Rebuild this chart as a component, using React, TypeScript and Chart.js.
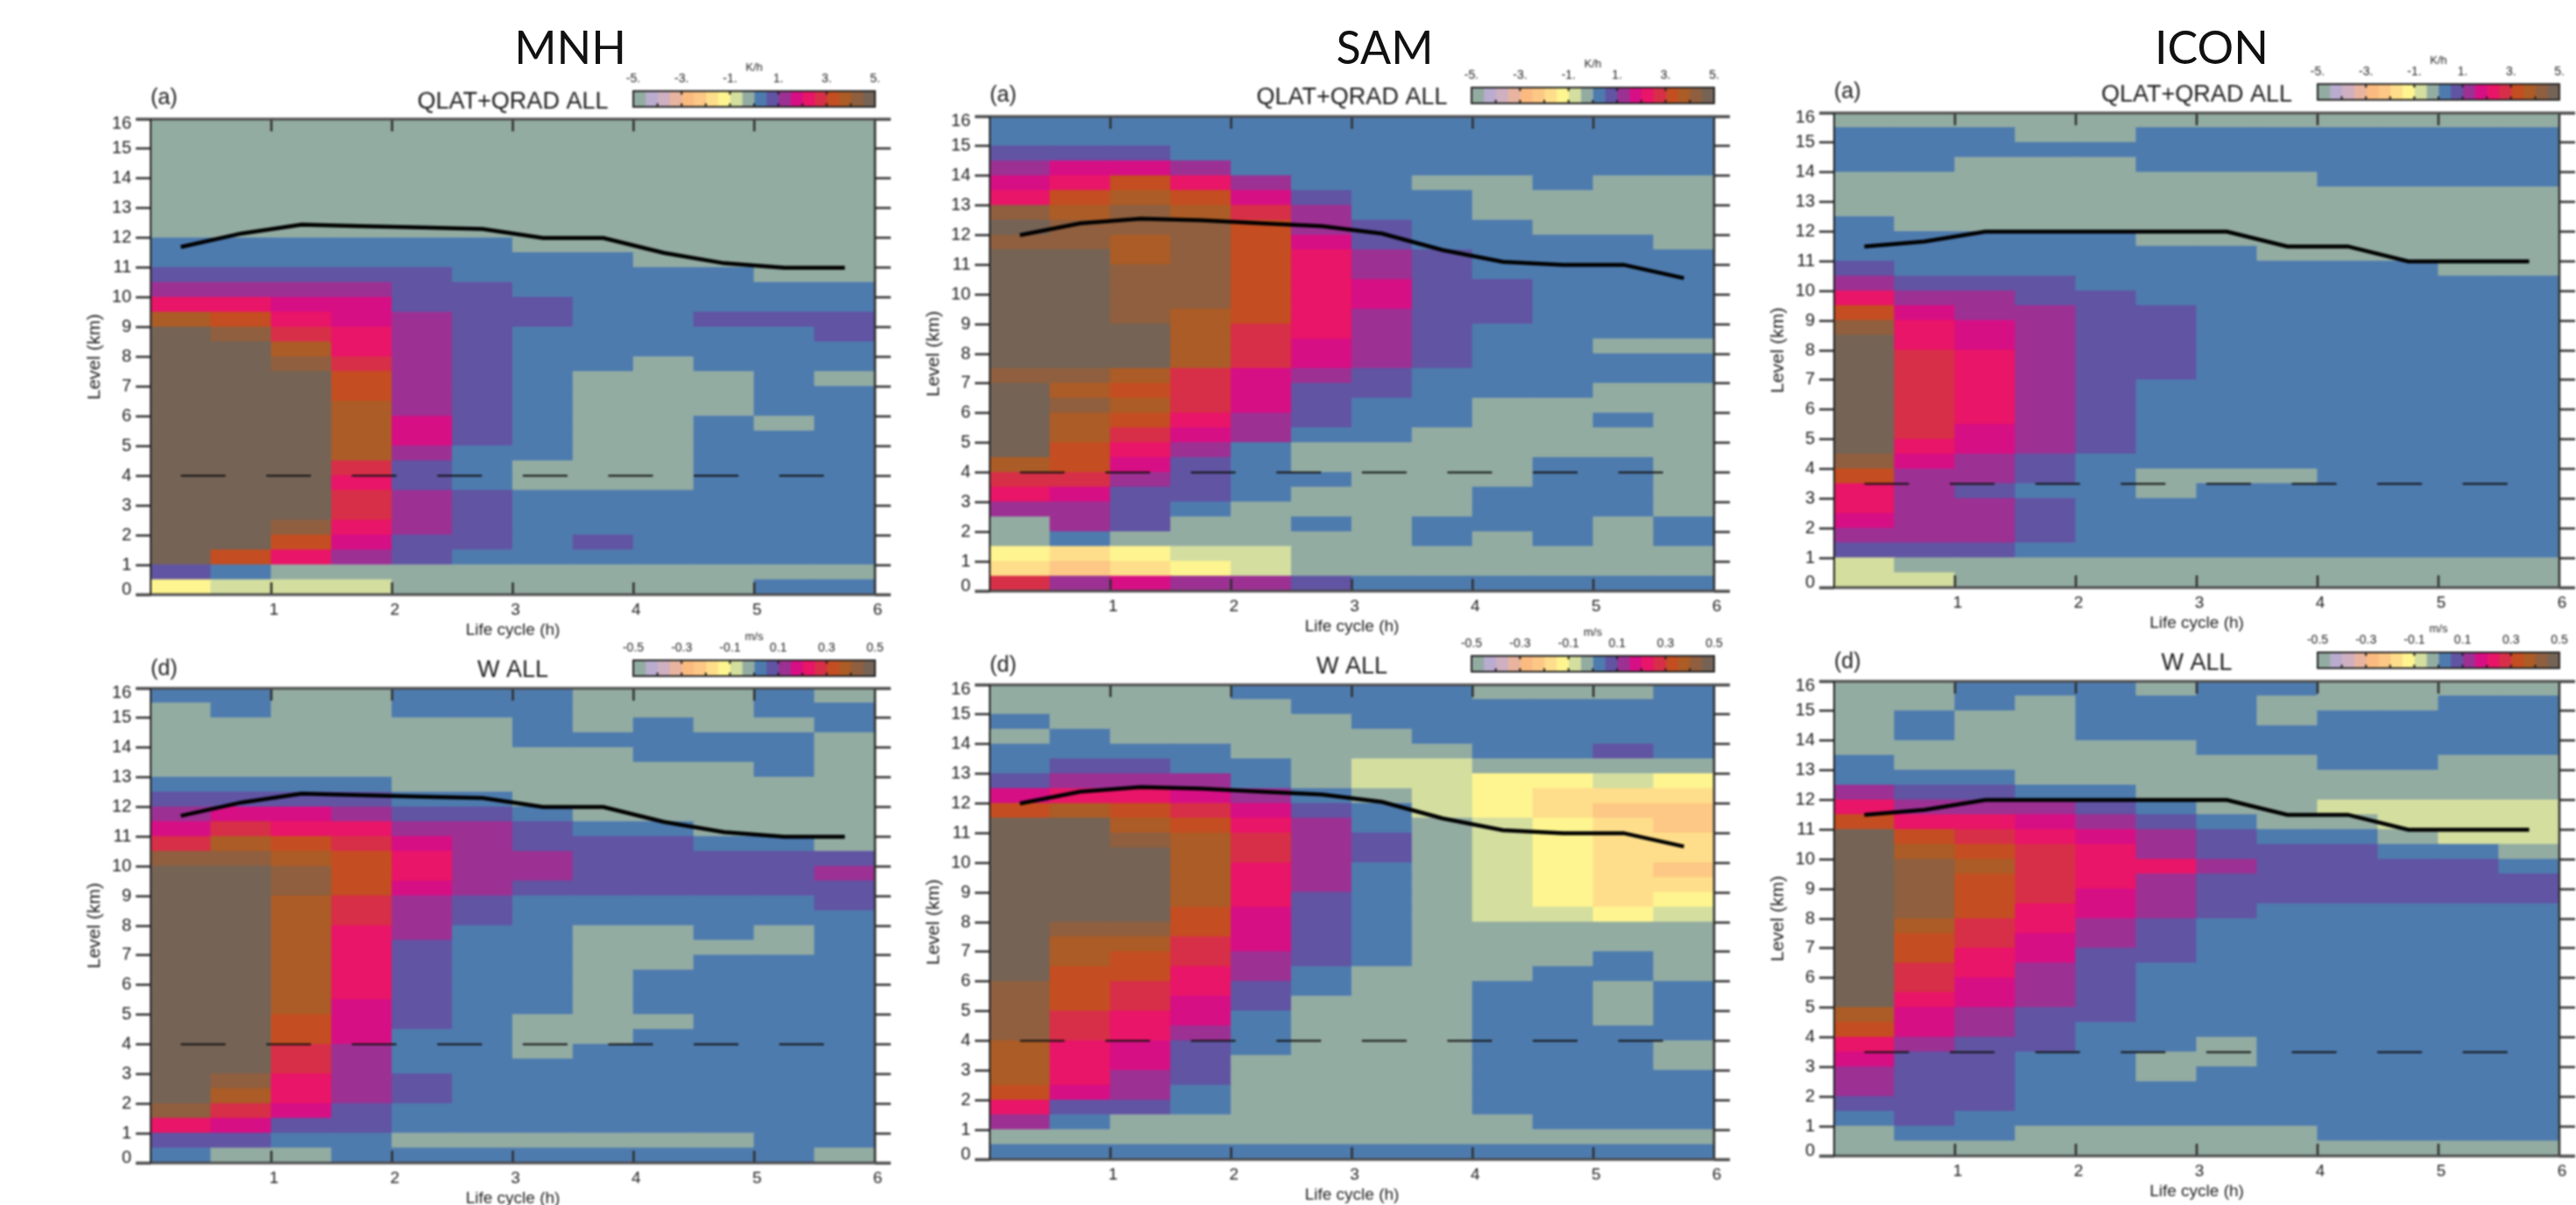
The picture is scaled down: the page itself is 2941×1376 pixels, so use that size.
import React, { useEffect, useRef } from "react";
import Chart from "chart.js/auto";

// Colour classes of the 20-step colour bar, from -5 (index 0) to +5 (index 19)
const LEVEL_COLORS = [
  "#93ACA2", "#B9ACCE", "#CFB0C0", "#E8B49F", "#FBBB80", "#FDC785", "#FEDE8A", "#FEF590", "#D3DE9F", "#93ACA2",
  "#4E7BAE", "#6154A3", "#9C3193", "#D70F84", "#E91568", "#D72F48", "#C44E21", "#AC5C26", "#8F5F3F", "#756356",
];
const N = 5, L = 6, Y = 7, E = 8, G = 9, B = 10, P = 11, U = 12, M = 13, K = 14, R = 15, O = 16, A = 17, W = 18, D = 19;

// Life-cycle bins (h), left edge of each 0.5 h column centre
const LIFE_CYCLE = [0.25, 0.75, 1.25, 1.75, 2.25, 2.75, 3.25, 3.75, 4.25, 4.75, 5.25, 5.75];

// Each column of a panel, top to bottom: colour class, then the level (km) down to which it holds
const MNH_QLAT = [
  [G,12, B,11, P,10.5, U,10, K,9.5, A,9, D,1, P,0.5, Y,0],
  [G,12, B,11, P,10.5, U,10, K,9.5, O,9, W,8.5, D,1.5, O,1, B,0.5, E,0],
  [G,12, B,11, P,10.5, U,10, M,9.5, K,9, R,8.5, A,8, W,7.5, D,2.5, W,2, O,1.5, K,1, G,0.5, E,0],
  [G,12, B,11, P,10.5, U,10, M,9, K,8, R,7.5, O,6.5, A,4.5, R,4, K,3.5, R,2.5, K,2, M,1.5, U,1, G,0.5, E,0],
  [G,12, B,11, P,9.5, U,6, M,5, U,4.5, P,3.5, U,2, P,1, G,0],
  [G,12, B,10.5, P,5, B,3.5, P,1.5, B,1, G,0],
  [G,11.5, B,10, P,9, B,4.5, G,3.5, B,1, G,0],
  [G,11.5, B,7.5, G,3.5, B,2, P,1.5, B,1, G,0],
  [G,11, B,8, G,3.5, B,1, G,0],
  [G,11, B,9.5, P,9, B,7.5, G,6, B,1, G,0],
  [G,10.5, B,9.5, P,9, B,6, G,5.5, B,1, G,0.5, B,0],
  [G,10.5, B,9.5, P,8.5, B,7.5, G,7, B,1, G,0.5, B,0],
];
const SAM_QLAT = [
  [B,15, P,14.5, U,14, M,13.5, K,13, W,12.5, D,12, W,11.5, D,7.5, W,7, D,4.5, A,4, R,3.5, K,3, U,2.5, G,1.5, Y,1, L,0.5, R,0],
  [B,15, P,14.5, M,14, K,13.5, O,13, A,12.5, W,11.5, D,7.5, W,7, A,6.5, W,6, A,5, O,4, R,3.5, M,3, U,2, B,1.5, L,1, N,0.5, U,0],
  [B,15, P,14.5, M,14, O,13.5, A,13, W,12, A,11, W,9, D,7.5, A,7, O,6.5, A,6, O,5.5, R,5, K,4.5, M,4, U,3.5, P,2, G,1.5, Y,1, L,0.5, M,0],
  [B,14.5, U,14, K,13.5, O,13, A,12.5, W,9.5, A,7.5, R,6, K,5.5, M,5, U,4.5, P,3, B,2.5, G,1.5, E,1, Y,0.5, U,0],
  [B,14, U,13.5, M,13, R,12.5, O,9, R,7.5, M,6, U,5, B,3, G,1.5, E,0.5, U,0],
  [B,13.5, P,13, U,12, M,11.5, K,8.5, M,7.5, U,7, P,5.5, B,5, G,4, B,3.5, G,2.5, B,2, G,0.5, P,0],
  [B,12.5, P,11.5, U,10.5, M,9.5, U,7.5, P,6.5, B,5, G,0.5, B,0],
  [B,14, G,13.5, B,11.5, P,7.5, B,5.5, G,2.5, B,1.5, G,0.5, B,0],
  [B,14, G,12.5, B,10.5, P,9, B,6.5, G,3.5, B,2, G,0.5, B,0],
  [B,13.5, G,12, B,6.5, G,4.5, B,1.5, G,0.5, B,0],
  [B,14, G,12, B,8.5, G,8, B,7, G,6, B,5.5, G,4.5, B,2.5, G,0.5, B,0],
  [B,14, G,11.5, B,8.5, G,8, B,7, G,2.5, B,1.5, G,0.5, B,0],
];
const ICON_QLAT = [
  [G,15.5, B,14, G,12.5, B,11, P,10.5, U,10, K,9.5, O,9, W,8.5, D,4.5, W,4, O,3.5, K,2.5, M,2, U,1.5, P,1, E,0],
  [G,15.5, B,14, G,12, B,10.5, P,10, U,9.5, M,9, K,8, R,5, K,4.5, M,4, U,1.5, P,1, G,0.5, E,0],
  [G,15.5, B,14.5, G,12, B,10.5, P,10, U,9, M,8, K,5.5, M,4.5, U,3.5, P,3, U,1.5, P,1, G,0],
  [G,15, B,14.5, G,12, B,10.5, P,9.5, U,4.5, P,3.5, B,3, P,1.5, B,1, G,0],
  [G,15, B,14.5, G,12, B,10, P,4.5, B,1, G,0],
  [G,15.5, B,14, G,11.5, B,9.5, P,7, B,4, G,3, B,1, G,0],
  [G,15.5, B,14, G,11.5, B,4, G,3.5, B,1, G,0],
  [G,15.5, B,14, G,11, B,4, G,3.5, B,1, G,0],
  [G,15.5, B,13.5, G,11, B,1, G,0],
  [G,15.5, B,13.5, G,11, B,1, G,0],
  [G,15.5, B,13.5, G,10.5, B,1, G,0],
  [G,15.5, B,13.5, G,10.5, B,1, G,0],
];
const MNH_W = [
  [B,15.5, G,13, B,12.5, P,12, U,11.5, M,11, R,10.5, W,10, D,2, W,1.5, K,1, P,0.5, B,0],
  [B,15, G,13, B,12.5, P,12, M,11.5, R,11, A,10.5, W,10, D,3, W,2.5, A,2, R,1.5, M,1, P,0.5, G,0],
  [G,13, B,12.5, P,12, M,11.5, K,11, O,10.5, A,10, W,9, A,5, O,4, R,3, K,2, M,1.5, P,1, B,0.5, G,0],
  [G,13, B,12.5, P,12, U,11.5, K,11, R,10.5, O,9, R,8, K,5.5, M,4, U,2, P,1, B,0],
  [B,15, G,12.5, B,12, P,11.5, U,11, M,10.5, K,9.5, M,9, U,7.5, P,4.5, B,3, P,2, B,1, G,0.5, B,0],
  [B,15, G,12.5, B,12, P,11.5, U,9, P,8, B,1, G,0.5, B,0],
  [B,14, G,12, B,11.5, P,10.5, U,9.5, P,9, B,5, G,3.5, B,1, G,0.5, B,0],
  [G,14.5, B,14, G,11.5, B,11, P,9, B,8, G,4, B,1, G,0.5, B,0],
  [G,15, B,13.5, G,11.5, B,11, P,9, B,8, G,6.5, B,5, G,4.5, B,1, G,0.5, B,0],
  [G,14.5, B,13.5, G,11, B,10.5, P,9, B,7.5, G,7, B,1, G,0.5, B,0],
  [B,15, G,14.5, B,13, G,11, B,10.5, P,9, B,8, G,7, B,0],
  [G,15.5, B,14.5, G,10.5, P,10, U,9.5, P,8.5, B,0.5, G,0],
];
const SAM_W = [
  [G,15, B,14.5, G,14, B,13, P,12.5, M,12, O,11.5, D,6, W,4, A,2.5, O,2, K,1.5, U,1, G,0.5, B,0],
  [G,14.5, B,13.5, P,13, U,12.5, K,12, A,11.5, D,8, W,7.5, A,6.5, O,5, R,4, K,2.5, M,2, P,1.5, B,1, G,0.5, B,0],
  [G,14, B,13.5, P,13, U,12.5, K,12, O,11.5, A,11, W,10.5, D,8, W,7.5, A,7, O,6, R,5, K,4, M,3, U,2, P,1.5, G,0.5, B,0],
  [G,14, B,13, U,12.5, M,12, R,11.5, O,11, A,8.5, O,7.5, R,6.5, K,5.5, M,4.5, U,4, P,2.5, B,1.5, G,0.5, B,0],
  [B,15.5, G,13.5, B,12.5, U,12, M,11.5, K,11, R,10, K,8.5, M,7, U,6, P,5, B,3.5, G,0.5, B,0],
  [B,15, G,12.5, B,12, P,11.5, U,9, P,6.5, B,5.5, G,0.5, B,0],
  [B,14.5, G,13.5, E,12.5, G,12, B,11, P,10, B,6.5, G,0.5, B,0],
  [B,14, G,13.5, E,11.5, G,0.5, B,0],
  [G,15.5, B,13.5, G,13, Y,11.5, E,8, G,6, B,1.5, G,0.5, B,0],
  [G,15.5, B,13.5, G,13, Y,12.5, L,11.5, Y,8.5, E,8, G,6.5, B,1, G,0.5, B,0],
  [G,15.5, B,14, P,13.5, G,13, E,12.5, L,12, N,11.5, L,8.5, Y,8, G,7, B,6, G,4.5, B,1, G,0.5, B,0],
  [B,13.5, G,13, Y,12.5, L,12, N,11, L,10, N,9.5, L,9, Y,8.5, E,8, G,6, B,4, G,3, B,1, G,0.5, B,0],
];
const ICON_W = [
  [G,13.5, B,12.5, U,12, K,11.5, O,11, D,5, A,4.5, O,4, K,3.5, M,3, U,2, P,1.5, B,1, G,0],
  [G,15, B,14, G,13, B,12.5, P,12, U,11.5, K,11, O,10.5, A,10, W,8, A,7.5, O,6.5, R,5.5, K,5, M,4, U,3.5, P,1, B,0.5, G,0],
  [B,15, G,13, B,12.5, P,12, U,11.5, K,11, R,10.5, O,10, A,9.5, O,8, R,7, K,6, M,5, U,4, P,1.5, B,0.5, G,0],
  [B,15.5, G,12.5, B,12, U,11.5, M,11, K,10.5, R,8.5, K,7.5, M,6.5, U,5, P,3.5, B,1, G,0],
  [B,14, G,12.5, B,12, P,11.5, U,11, M,10.5, K,9, M,8, U,7, P,4.5, B,1, G,0],
  [G,15.5, B,14, G,12, B,11.5, P,11, U,10, K,9.5, U,8, P,6.5, B,3.5, G,2.5, B,1, G,0],
  [B,13.5, G,11.5, B,11, P,10, U,9.5, P,8, B,4, G,3, B,1, G,0],
  [B,15.5, G,14.5, B,13.5, G,11, B,10.5, P,8.5, B,1, G,0],
  [G,15, B,13, G,12, E,11.5, G,11, B,10.5, P,8.5, B,0.5, G,0],
  [G,15, B,13, G,12, E,11, G,10.5, B,10, P,8.5, B,0.5, G,0],
  [G,15.5, B,13.5, G,12, E,10.5, B,10, P,8.5, B,0.5, G,0],
  [G,15.5, B,13.5, G,12, E,10.5, G,10, B,9.5, P,8.5, B,0.5, G,0],
];

// Solid line: cloud-top level (km); dashed line: reference level (km)
const MNH_TOP = [11.7, 12.15, 12.45, 12.4, 12.35, 12.3, 12.0, 12.0, 11.5, 11.15, 11.0, 11.0];
const SAM_TOP = [12.0, 12.4, 12.55, 12.5, 12.4, 12.3, 12.05, 11.5, 11.1, 11.0, 11.0, 10.55];
const ICON_TOP = [11.5, 11.67, 12.0, 12.0, 12.0, 12.0, 12.0, 11.5, 11.5, 11.0, 11.0, 11.0];
const MNH_REF = [4, 4, 4, 4, 4, 4, 4, 4, 4, 4, 4, 4];
const SAM_REF = [4, 4, 4, 4, 4, 4, 4, 4, 4, 4, 4, 4];
const ICON_REF = [3.5, 3.5, 3.5, 3.5, 3.5, 3.5, 3.5, 3.5, 3.5, 3.5, 3.5, 3.5];

const ROW_BOTTOMS = Array.from({ length: 32 }, (_, i) => i * 0.5);
const TEXT = "#1c1c1c";
const FONT = "'Liberation Sans', Arial, sans-serif";
const AXIS = "#2e2e2e";
const PAD = { left: 80, right: 20, top: 60, bottom: 52 };
const BAR_PAD = { left: 26, right: 26, top: 34, bottom: 2 };

function expandColumn(runs: number[]) {
  const out: Record<number, number> = {};
  let top = 16;
  for (let i = 0; i < runs.length; i += 2) {
    const bottom = runs[i + 1];
    for (let y = top - 0.5; y >= bottom; y -= 0.5) out[y] = runs[i];
    top = bottom;
  }
  return out;
}

function panelConfig(p: any) {
  const cols = p.cols.map(expandColumn);
  const cellSets = ROW_BOTTOMS.map((y) => ({
    type: "bar",
    grouped: false,
    order: 2,
    barPercentage: 1,
    categoryPercentage: 1,
    inflateAmount: 0.6,
    borderWidth: 0,
    data: LIFE_CYCLE.map((x) => ({ x, y: [y, y + 0.5] })),
    backgroundColor: cols.map((c: any) => LEVEL_COLORS[c[y]]),
  }));
  const top = p.top;
  const frame = {
    id: "frame",
    afterDatasetsDraw(chart: any) {
      const { ctx, chartArea: a, scales } = chart;
      ctx.save();
      ctx.strokeStyle = AXIS;
      ctx.lineWidth = 2.5;
      ctx.beginPath();
      ctx.moveTo(a.right, a.top);
      ctx.lineTo(a.right, a.bottom);
      for (let t = 1; t <= 5; t++) {
        const x = scales.x.getPixelForValue(t);
        ctx.moveTo(x, a.top);
        ctx.lineTo(x, a.top + 14);
        ctx.moveTo(x, a.bottom);
        ctx.lineTo(x, a.bottom - 14);
      }
      ctx.stroke();
      ctx.lineWidth = 3;
      ctx.strokeStyle = "#4a4a4a";
      ctx.beginPath();
      ctx.moveTo(a.left - 17, a.top);
      ctx.lineTo(a.right + 18, a.top);
      ctx.moveTo(a.left - 17, a.bottom);
      ctx.lineTo(a.right + 18, a.bottom);
      ctx.stroke();
      ctx.lineWidth = 2;
      ctx.strokeStyle = "#222222";
      ctx.beginPath();
      ctx.moveTo(a.left, a.top);
      ctx.lineTo(a.left, a.bottom);
      ctx.stroke();
      ctx.fillStyle = TEXT;
      ctx.textBaseline = "middle";
      ctx.textAlign = "left";
      ctx.font = `25px ${FONT}`;
      ctx.fillText(p.tag, a.left, a.top - p.tagUp);
      ctx.textAlign = "center";
      ctx.font = `27px ${FONT}`;
      ctx.fillText(p.title, (a.left + a.right) / 2, a.top - p.titleUp);
      ctx.restore();
    },
  };
  return {
    type: "bar",
    data: {
      datasets: [
        ...cellSets,
        {
          type: "line",
          order: 0,
          data: LIFE_CYCLE.map((x, i) => ({ x, y: top[i] })),
          borderColor: "#000000",
          borderWidth: 4.5,
          pointRadius: 0,
          tension: 0,
          fill: false,
        },
        {
          type: "line",
          order: 1,
          data: LIFE_CYCLE.map((x, i) => ({ x, y: p.ref[i] })),
          borderColor: "#111111",
          borderWidth: 2,
          borderDash: [51, 46.6],
          pointRadius: 0,
          tension: 0,
          fill: false,
        },
      ],
    },
    options: {
      animation: false,
      responsive: false,
      devicePixelRatio: 1,
      events: [],
      layout: { autoPadding: false, padding: { top: PAD.top, left: 0, right: 0, bottom: 0 } },
      plugins: { legend: { display: false }, tooltip: { enabled: false } },
      scales: {
        x: {
          type: "linear",
          min: 0,
          max: 6,
          offset: false,
          grid: { display: false, drawTicks: false },
          border: { display: false },
          ticks: {
            stepSize: 1,
            padding: 6,
            labelOffset: 3,
            color: TEXT,
            maxRotation: 0,
            font: { family: FONT, size: 19 },
            callback: (v: number) => (v === 0 ? "" : String(v)),
          },
          title: { display: true, text: "Life cycle (h)", color: TEXT, padding: 0, font: { family: FONT, size: 19 } },
          afterFit(s: any) {
            s.height = PAD.bottom;
          },
        },
        y: {
          type: "linear",
          min: 0,
          max: 16,
          grid: { drawOnChartArea: false, drawTicks: true, tickLength: 17, tickWidth: 2.5, tickColor: AXIS },
          border: { display: false },
          ticks: {
            stepSize: 1,
            padding: 5,
            color: TEXT,
            autoSkip: false,
            // The end labels sit just inside the plot's height, as in the original figure
            font: (c: any) => ({ family: FONT, size: 20, lineHeight: c.tick && (c.tick.value === 16 || c.tick.value === 0) ? 0.55 : 1.2 }),
            callback: (v: number) => (v === 16 ? ["", "16"] : v === 0 ? ["0", ""] : String(v)),
          },
          title: { display: true, text: "Level (km)", color: TEXT, padding: { top: 4, bottom: 0 }, font: { family: FONT, size: 21 } },
          afterFit(s: any) {
            s.width = PAD.left;
          },
        },
        y2: {
          type: "linear",
          position: "right",
          display: true,
          min: 0,
          max: 16,
          grid: { drawOnChartArea: false, drawTicks: true, tickLength: 18, tickWidth: 2.5, tickColor: AXIS },
          border: { display: false },
          ticks: { stepSize: 1, display: false },
          afterFit(s: any) {
            s.width = PAD.right;
          },
        },
      },
    },
    plugins: [frame],
  };
}

function barConfig(c: any) {
  const max = c.max;
  const step = (2 * max) / 20;
  const marks = {
    id: "marks",
    afterDatasetsDraw(chart: any) {
      const { ctx, chartArea: a, scales } = chart;
      ctx.save();
      ctx.strokeStyle = "#222222";
      ctx.lineWidth = 2;
      ctx.strokeRect(a.left, a.top, a.right - a.left, a.bottom - a.top);
      ctx.beginPath();
      for (let i = 2; i < 20; i += 2) {
        const x = scales.x.getPixelForValue(-max + i * step);
        ctx.moveTo(x, a.bottom);
        ctx.lineTo(x, a.bottom - 4);
        if (i % 4 === 0) {
          ctx.moveTo(x, a.top);
          ctx.lineTo(x, a.top + 4);
        }
      }
      ctx.stroke();
      ctx.restore();
    },
  };
  return {
    type: "bar",
    data: {
      labels: [""],
      datasets: LEVEL_COLORS.map((color, i) => ({
        grouped: false,
        barPercentage: 1,
        categoryPercentage: 1,
        inflateAmount: 0.4,
        borderWidth: 0,
        backgroundColor: color,
        data: [[-max + i * step, -max + (i + 1) * step]],
      })),
    },
    options: {
      indexAxis: "y",
      animation: false,
      responsive: false,
      devicePixelRatio: 1,
      events: [],
      layout: { autoPadding: false, padding: { left: BAR_PAD.left, right: BAR_PAD.right, top: 0, bottom: BAR_PAD.bottom } },
      plugins: { legend: { display: false }, tooltip: { enabled: false } },
      scales: {
        x: {
          type: "linear",
          position: "top",
          min: -max,
          max,
          grid: { display: false, drawTicks: false },
          border: { display: false },
          ticks: {
            stepSize: 2 * max / 5,
            padding: 5,
            color: TEXT,
            maxRotation: 0,
            autoSkip: false,
            font: { family: FONT, size: 14 },
            callback: (v: number) => c.format(v),
          },
          title: { display: true, text: c.unit, color: TEXT, padding: 0, font: { family: FONT, size: 13 } },
          afterFit(s: any) {
            s.height = BAR_PAD.top;
          },
        },
        y: { type: "category", display: false },
      },
    },
    plugins: [marks],
  };
}

function ChartBox({ x, y, w, h, config }: any) {
  const ref = useRef<HTMLCanvasElement>(null);
  useEffect(() => {
    const chart = new Chart(ref.current as any, config);
    return () => chart.destroy();
  }, []);
  return <canvas ref={ref} width={w} height={h} style={{ position: "absolute", left: x, top: y, width: w, height: h }} />;
}

function Panel({ plot, p }: any) {
  return (
    <ChartBox
      x={plot.x - PAD.left}
      y={plot.y - PAD.top}
      w={plot.w + PAD.left + PAD.right}
      h={plot.h + PAD.top + PAD.bottom}
      config={panelConfig(p)}
    />
  );
}

function Bar({ rect, c }: any) {
  return (
    <ChartBox
      x={rect.x - BAR_PAD.left}
      y={rect.y - BAR_PAD.top}
      w={rect.w + BAR_PAD.left + BAR_PAD.right}
      h={rect.h + BAR_PAD.top + BAR_PAD.bottom}
      config={barConfig(c)}
    />
  );
}

const KH = { max: 5, unit: "K/h", format: (v: number) => `${Math.round(v)}.` };
const MS = { max: 0.5, unit: "m/s", format: (v: number) => v.toFixed(1) };

const COLUMNS = [
  {
    name: "MNH", nameX: 651, left: 172, width: 827, aTop: 136, aH: 543, dTop: 786, dH: 542, barX: 723, barW: 276, barUpA: 32, barUpD: 32,
    qlat: MNH_QLAT, w: MNH_W, top: MNH_TOP, ref: MNH_REF, tagUpA: 24, titleUpA: 19, tagUpD: 22, titleUpD: 20,
  },
  {
    name: "SAM", nameX: 1581, left: 1130, width: 827, aTop: 133, aH: 542, dTop: 782, dH: 542, barX: 1680, barW: 277, barUpA: 33, barUpD: 33,
    qlat: SAM_QLAT, w: SAM_W, top: SAM_TOP, ref: SAM_REF, tagUpA: 24, titleUpA: 21, tagUpD: 22, titleUpD: 20,
  },
  {
    name: "ICON", nameX: 2525, left: 2094, width: 828, aTop: 129, aH: 542, dTop: 778, dH: 542, barX: 2646, barW: 276, barUpA: 33, barUpD: 33,
    qlat: ICON_QLAT, w: ICON_W, top: ICON_TOP, ref: ICON_REF, tagUpA: 24, titleUpA: 20, tagUpD: 22, titleUpD: 20,
  },
];

export default function App() {
  return (
    <div style={{ position: "fixed", left: 0, top: 0, width: 2941, height: 1376, overflow: "hidden", background: "#ffffff" }}>
      {COLUMNS.map((c) => (
        <div
          key={c.name}
          style={{ position: "absolute", left: c.nameX - 100, width: 200, top: 22, textAlign: "center", fontFamily: "Lato, sans-serif", fontSize: 52, lineHeight: "62px", color: "#111" }}
        >
          {c.name}
        </div>
      ))}
      <div style={{ position: "absolute", left: 0, top: 0, width: 2941, height: 1376, filter: "blur(0.8px)" }}>
        {COLUMNS.map((c) => (
          <React.Fragment key={c.name}>
            <Panel
              plot={{ x: c.left, y: c.aTop, w: c.width, h: c.aH }}
              p={{ cols: c.qlat, top: c.top, ref: c.ref, tag: "(a)", title: "QLAT+QRAD ALL", tagUp: c.tagUpA, titleUp: c.titleUpA }}
            />
            <Panel
              plot={{ x: c.left, y: c.dTop, w: c.width, h: c.dH }}
              p={{ cols: c.w, top: c.top, ref: c.ref, tag: "(d)", title: "W ALL", tagUp: c.tagUpD, titleUp: c.titleUpD }}
            />
            <Bar rect={{ x: c.barX, y: c.aTop - c.barUpA, w: c.barW, h: 18 }} c={KH} />
            <Bar rect={{ x: c.barX, y: c.dTop - c.barUpD, w: c.barW, h: 18 }} c={MS} />
          </React.Fragment>
        ))}
      </div>
    </div>
  );
}
